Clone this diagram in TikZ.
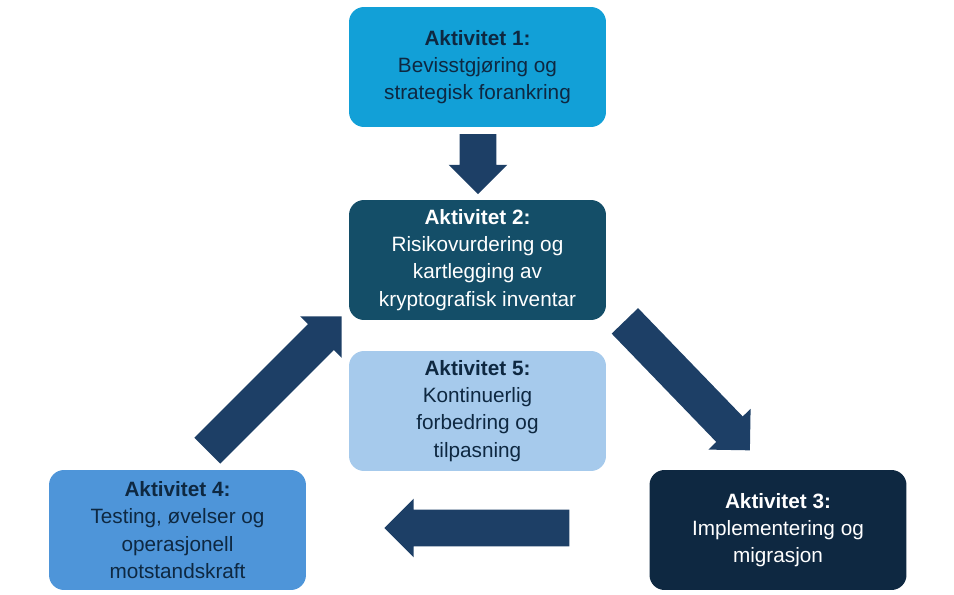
\documentclass[tikz,border=0pt]{standalone}
\usepackage{fontspec}
\setmainfont{Liberation Sans}
\usetikzlibrary{shapes.arrows}
\definecolor{akt1}{HTML}{12A0D7}
\definecolor{akt2}{HTML}{144E68}
\definecolor{akt3}{HTML}{0E2841}
\definecolor{akt4}{HTML}{4E95D9}
\definecolor{akt5}{HTML}{A6CAEC}
\definecolor{pil}{HTML}{1D3F66}
\begin{document}
\begin{tikzpicture}[x=0.02cm,y=-0.02cm,
  boks/.style={rounded corners=0.3cm, minimum width=5.14cm, minimum height=2.4cm,
    align=center, font=\fontsize{11.8}{15.5}\selectfont, text=akt3},
  pil/.style={single arrow, fill=pil, draw=none, inner sep=0.36cm,
    single arrow head extend=0.22cm, single arrow tip angle=90}]
\useasboundingbox (0,0) rectangle (954,595);
% boksene
\node[boks, fill=akt1] (a1) at (477.5,67) {\textbf{Aktivitet 1:}\\Bevisstgjøring og\\strategisk forankring};
\node[boks, fill=akt2, text=white] (a2) at (477.5,260) {\textbf{Aktivitet 2:}\\Risikovurdering og\\kartlegging av\\kryptografisk inventar};
\node[boks, fill=akt5] (a5) at (477.5,411) {\textbf{Aktivitet 5:}\\Kontinuerlig\\forbedring og\\tilpasning};
\node[boks, fill=akt4] (a4) at (177.5,530) {\textbf{Aktivitet 4:}\\Testing, øvelser og\\operasjonell\\motstandskraft};
\node[boks, fill=akt3, text=white] (a3) at (778,530) {\textbf{Aktivitet 3:}\\Implementering og\\migrasjon};
% pilene
\node[pil, minimum height=1.2cm, rotate=-90] (p12) at (478,155) {};
\node[pil, minimum height=3.6cm, rotate=-46] (p23) at (681,379) {};
\node[pil, minimum height=3.7cm, rotate=180] (p34) at (486,528) {};
\node[pil, minimum height=3.8cm, rotate=45] (p42) at (268,390) {};
\end{tikzpicture}
\end{document}
